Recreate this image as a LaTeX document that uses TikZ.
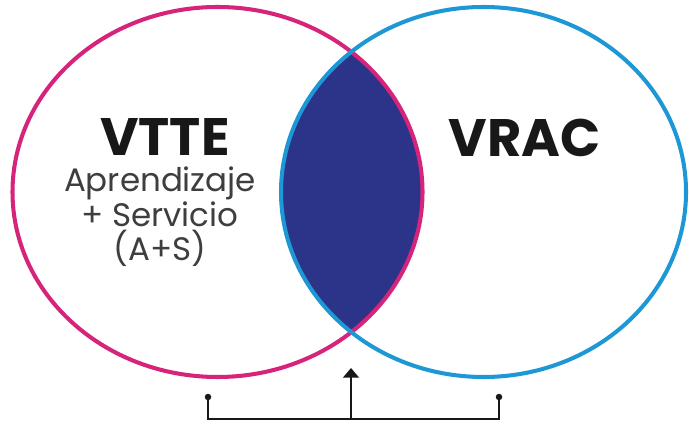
\documentclass[tikz,border=0pt]{standalone}
\usepackage{fontspec}
\setmainfont{Poppins}
\usetikzlibrary{arrows.meta}

\definecolor{vttecolor}{RGB}{214,36,122}
\definecolor{vraccolor}{RGB}{29,152,212}
\definecolor{lenscolor}{RGB}{44,52,138}
\definecolor{subcolor}{RGB}{62,62,62}
\definecolor{titlecolor}{RGB}{24,24,24}

\tikzset{
  ring/.style={line width=2.3pt},
  title/.style={anchor=base, text=titlecolor, font=\bfseries\fontsize{30}{32}\selectfont},
  subtitle/.style={align=center, text=subcolor, font=\fontsize{18.5}{19.6}\selectfont},
  bracket/.style={line width=1.1pt, draw=titlecolor},
  tipdot/.style={fill=titlecolor}
}

\begin{document}
\begin{tikzpicture}
  \useasboundingbox (0,0) rectangle (13.78,8.52);
  \begin{scope}
    \clip (4.35,4.68) ellipse [x radius=4.10, y radius=3.70];
    \fill[lenscolor] (9.67,4.68) ellipse [x radius=4.05, y radius=3.70];
  \end{scope}
  \draw[ring, vttecolor] (4.35,4.68) ellipse [x radius=4.10, y radius=3.70];
  \draw[ring, vraccolor] (9.67,4.68) ellipse [x radius=4.05, y radius=3.70];
  \node[title] (vtte) at (3.30,5.40) {VTTE};
  \node[title] (vrac) at (10.49,5.38) {VRAC};
  \node[subtitle] (as) at (3.20,4.18) {Aprendizaje\\+ Servicio\\(A+S)};
  \coordinate (left) at (4.16,0.58);
  \coordinate (right) at (9.98,0.58);
  \coordinate (mid) at (7.02,0.14);
  \coordinate (tip) at (7.02,1.16);
  \draw[bracket] (left) |- (mid) -| (right);
  \draw[bracket, -{Triangle[length=5.5pt, width=9pt]}] (mid) -- (tip);
  \fill[tipdot] (left) circle (0.065);
  \fill[tipdot] (right) circle (0.065);
\end{tikzpicture}
\end{document}
